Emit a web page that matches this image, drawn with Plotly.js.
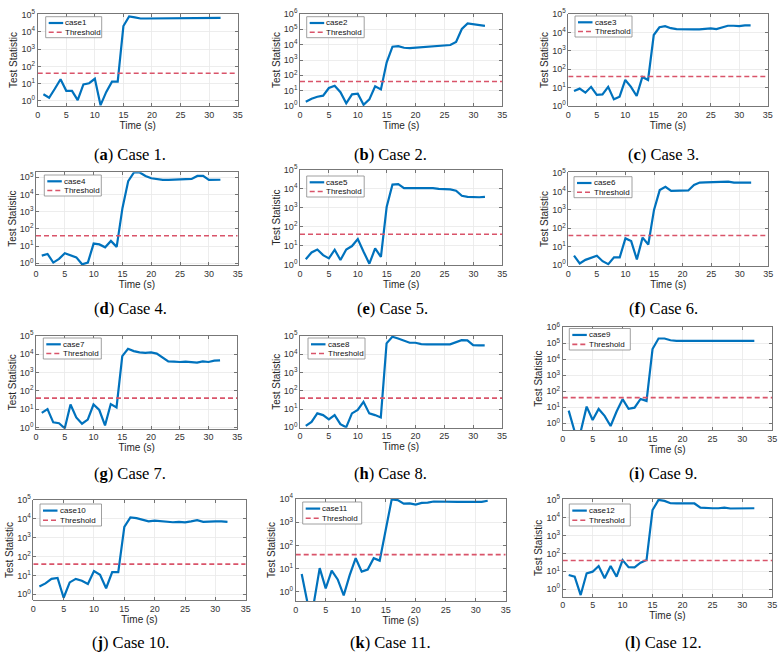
<!DOCTYPE html>
<html><head><meta charset="utf-8">
<script src="https://cdn.plot.ly/plotly-3.0.1.min.js"></script>
<style>html,body{margin:0;padding:0;background:#fff}#chart{width:781px;height:657px}</style>
</head><body><div id="chart"></div>
<script>
// ---------------- DATA ----------------
const time = [1,2,3,4,5,6,7,8,9,10,11,12,13,14,15,16,17,18,19,20,21,22,23,24,25,26,27,28,29,30,31,32];
const case1  = [2.4,1.5,5,18,3.8,3.8,1.1,9,10.5,19,0.56,3.3,13,13,22000,80000,70000,60000,60000,60000,61000,61000,61000,61000,61000,61000,61000,61000,62000,63000,64000,65000];
const case2  = [1.9,3,4,4.7,15,21,8,1.5,5.8,6.3,1.2,2.7,19,12,700,7400,8000,6300,6000,6300,7000,7200,7500,8000,8500,9500,15000,105000,245000,220000,180000,170000];
const case3  = [6.5,8.8,5.3,11,4,4.3,11,2.3,3.2,26,11,3.5,38,26,7200,19000,22000,17000,15000,14500,14500,14500,14500,15000,16500,15000,18000,23000,23000,22000,24000,24000];
const case4  = [2.8,3.5,1.1,1.8,3.8,2.8,2.2,0.87,1.1,14,12.5,8.5,20,9,1600,60000,190000,190000,120000,88000,76000,70000,70000,72000,76000,72000,80000,120000,120000,70000,70000,72000];
const case5  = [1.9,4.3,6.2,3.1,2.1,6,1.7,6.2,9.4,22,4.7,1.1,7,2.5,1150,17000,18000,11000,11000,11000,11000,11000,11000,10000,10000,9500,8000,4300,3800,3600,3600,3800];
const case6  = [3.2,1.2,1.9,2.5,3.2,1.6,1.1,2.6,2.6,28,20,2,31,13,1000,12000,18000,11000,11000,11500,11500,23000,31000,32000,32000,32000,32000,35000,31000,31000,31000,31000];
const case7  = [6.3,10,1.9,1.7,0.9,18,3.5,1.6,2.7,18,9,1.3,19,12.5,8000,20000,15000,12700,12000,12700,11000,6800,4100,4000,3800,4000,3800,3500,4100,3800,4500,4700];
const case8  = [1.2,2,5.8,4.7,2.7,4.7,1.5,1.0,5.8,9,25,5.8,4.7,3.5,40000,92000,74000,55000,43000,43000,36000,35000,36000,36000,35000,35000,45000,60000,58000,32000,31000,31000];
const case9  = [6.2,0.3,0.3,11,1.6,7.9,2.9,0.68,5.4,32,8,9.5,33,25,44000,200000,200000,155000,140000,140000,140000,140000,140000,140000,140000,140000,140000,140000,140000,140000,140000,140000];
const case10 = [2.6,3.8,6.6,7.4,0.66,4.3,6.6,5.3,3.5,17,11,2.1,15,15,3800,12000,11000,9000,7400,8000,7400,7400,6600,7000,6600,7400,8500,7000,7400,7400,7400,7000];
const case11 = [5.8,0.3,0.3,10.4,1.4,8.2,3.4,0.7,5.2,28,7.4,9.1,28,22,460,9600,8900,6300,6500,5700,6800,7000,7800,7600,7600,7500,7500,7500,7500,7500,7500,8400];
const case12 = [6.1,4.9,0.46,7.6,9.4,19.6,4,19.6,4.9,42,17,16.5,30,42,27000,100000,88000,65000,63000,63000,63000,63000,37000,34000,34000,34000,37000,33000,34000,34000,34000,34000];
const seriesValues = [case1,case2,case3,case4,case5,case6,case7,case8,case9,case10,case11,case12];
const seriesNames = ['case1','case2','case3','case4','case5','case6','case7','case8','case9','case10','case11','case12'];
const captionLetters = ['a','b','c','d','e','f','g','h','i','j','k','l'];
const captionTexts = ['Case 1.','Case 2.','Case 3.','Case 4.','Case 5.','Case 6.','Case 7.','Case 8.','Case 9.','Case 10.','Case 11.','Case 12.'];
const thresholdValue = 40;
const thresholdName = 'Threshold';
const xRange = [0, 35];
const xTickVals = [0,5,10,15,20,25,30,35];
const xTitle = 'Time (s)';
const yTitle = 'Test Statistic';

// ---------------- LAYOUT CONFIG (pixels) ----------------
const W = 781, H = 657;
// [left, right, top, bottom] of each plot frame
const boxes = [
  [37.7,237.7,14,106],[300,502.3,14,106],[568.3,767.7,14,106],
  [36,237.7,172.3,265],[300,502.3,170,265],[568.3,768.3,172.3,265.7],
  [36,237.3,335.7,428.7],[300,502,335.7,427.7],[562.7,772.3,327.3,430],
  [33.3,245.7,500,600],[295.7,505.7,499,601],[562.7,772.3,499,596.7]
];
// log10 y ranges
const yRanges = [
  [-0.3,5.04],[0,6],[0,5],
  [-0.1,5.29],[-0.03,5],[-0.04,5.05],
  [-0.07,5.02],[-0.02,5.02],[-0.42,6],
  [-0.3,5],[-0.4,4],[-0.43,5.05]
];
const captionPos = [
  [130,155],[390,155],[663,155],
  [130,308],[392,308],[663,308],
  [130,473],[390,473],[663,473],
  [130,642],[390,642],[663,642]
];
// legend box: [left, top, width, height]
const legendBox = [
  [45.7,16.7,56,21],[306.7,16.7,57.5,21],[575,16,57,21],
  [44.3,175,57,21],[306.7,176,57.5,21],[574,176.7,58,21],
  [43.3,338,58,21],[308,338,57,21],[569.3,328.5,61,21.5],
  [40,504,61.5,22],[302.7,502,59,22],[569.3,504,61,22]
];

const blue = '#0072BD';
const red = '#D9546A';
const tickFont = {family:'Liberation Sans, Arial, sans-serif', size:9, color:'#333'};
const titleFont = {family:'Liberation Sans, Arial, sans-serif', size:10, color:'#262626'};
const legendFont = {family:'Liberation Sans, Arial, sans-serif', size:8, color:'#111'};

const traces = [];
const layout = {
  width: W, height: H,
  margin: {l:0,r:0,t:0,b:0},
  paper_bgcolor: '#fff', plot_bgcolor: '#fff',
  showlegend: false,
  annotations: [],
  shapes: []
};
const px = v => v / W;
const py = v => 1 - v / H;

for (let i = 0; i < 12; i++) {
  const n = i === 0 ? '' : String(i+1);
  const xa = 'x' + n, ya = 'y' + n;
  const [L,R,T,B] = boxes[i];
  traces.push({
    x: time, y: seriesValues[i], xaxis: xa, yaxis: ya, type: 'scatter', mode: 'lines',
    name: seriesNames[i], line: {color: blue, width: 2.2}
  });
  traces.push({
    x: xRange, y: xRange.map(() => thresholdValue), xaxis: xa, yaxis: ya, type: 'scatter', mode: 'lines',
    name: thresholdName, line: {color: red, width: 1.6, dash: '5px,3px'}
  });
  const lo = yRanges[i][0], hi = yRanges[i][1];
  const exps = [];
  for (let e = Math.ceil(lo - 1e-9); e <= Math.floor(hi + 1e-9); e++) exps.push(e);
  layout['xaxis' + n] = {
    domain: [L/W, R/W], anchor: ya, range: xRange,
    tickvals: xTickVals, ticktext: xTickVals.map(String),
    ticks: 'inside', ticklen: 3, tickcolor: '#555', tickwidth: 0.8,
    showline: true, linecolor: '#555', linewidth: 0.8, mirror: 'ticks',
    showgrid: true, gridcolor: '#e8e8e8', gridwidth: 0.8, zeroline: false,
    tickfont: tickFont,
    title: {text: xTitle, font: titleFont, standoff: 0}
  };
  layout['yaxis' + n] = {
    domain: [1 - B/H, 1 - T/H], anchor: xa, type: 'log', range: [lo, hi],
    tickvals: exps.map(e => Math.pow(10, e)), ticktext: exps.map(e => '10<sup>' + e + '</sup>'),
    ticks: 'inside', ticklen: 3, tickcolor: '#555', tickwidth: 0.8,
    showline: true, linecolor: '#555', linewidth: 0.8, mirror: 'ticks',
    showgrid: true, gridcolor: '#e8e8e8', gridwidth: 0.8, zeroline: false,
    tickfont: tickFont,
    title: {text: yTitle, font: titleFont, standoff: 1}
  };
  // legend (box, samples, labels)
  const [lx, ly, lw, lh] = legendBox[i];
  layout.shapes.push({type:'rect', xref:'paper', yref:'paper', x0:px(lx), x1:px(lx+lw), y0:py(ly), y1:py(ly+lh),
    fillcolor:'#fff', line:{color:'#888', width:0.8}, layer:'above'});
  const rowY = [ly + lh*0.3, ly + lh*0.74];
  const entries = [{name: seriesNames[i], color: blue, width: 2.2, dash: 'solid'},
                   {name: thresholdName, color: red, width: 1.6, dash: '5px,3px'}];
  entries.forEach((e, k) => {
    layout.shapes.push({type:'line', xref:'paper', yref:'paper', x0:px(lx+3), x1:px(lx+17.5), y0:py(rowY[k]), y1:py(rowY[k]),
      line:{color:e.color, width:e.width, dash:e.dash}, layer:'above'});
    layout.annotations.push({xref:'paper', yref:'paper', x:px(lx+18.5), y:py(rowY[k]), xanchor:'left', yanchor:'middle',
      showarrow:false, text:e.name, font:legendFont, borderpad:0});
  });
  layout.annotations.push({
    xref: 'paper', yref: 'paper', x: px(captionPos[i][0]), y: py(captionPos[i][1]),
    xanchor: 'center', yanchor: 'middle', showarrow: false,
    text: '(<b>' + captionLetters[i] + '</b>) ' + captionTexts[i],
    font: {family: 'Liberation Serif, Times New Roman, serif', size: 16.5, color: '#000'}
  });
}

Plotly.newPlot('chart', traces, layout, {staticPlot: true, displayModeBar: false});
</script>
</body></html>
